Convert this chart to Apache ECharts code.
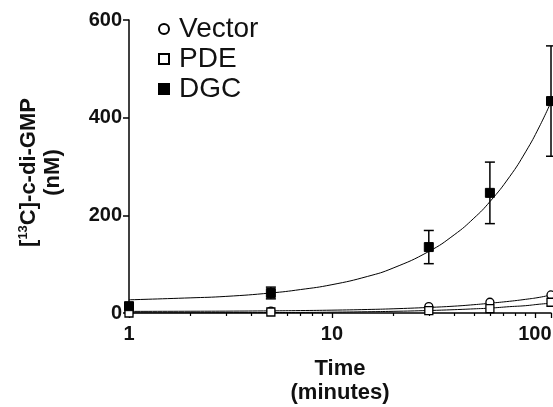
<!DOCTYPE html>
<html>
<head>
    <meta charset="utf-8">
    <title>c-di-GMP</title>
    <script src="https://cdn.jsdelivr.net/npm/echarts@6/dist/echarts.min.js"></script>
    <style>
        html, body { margin: 0; padding: 0; background: #fff; }
        #chart1 { width: 553px; height: 407px; }
    </style>
</head>
<body>
<div id="chart1"></div>
<script>
    // measured points (minutes, nM)
    var times = [1, 5, 30, 60, 120];
    var vector = [1, 4, 13, 22, 37];
    var pde = [0, 2, 5, 9, 22];
    var dgc = [14, 41, 135, 246, 434];
    var dgcErr = [6, 12, 34, 63, 113];

    // fit curves
    var fitTimes = [1, 2, 3, 5, 7, 10, 15, 20, 30, 40, 50, 60, 75, 90, 105, 120];
    var vectorFit = [3.3, 3.6, 3.8, 4.4, 5, 5.8, 7.2, 8.6, 11.4, 14, 17, 20, 24, 28, 32, 37];
    var pdeFit = [0.2, 0.4, 0.6, 0.9, 1.2, 1.7, 2.6, 3.4, 5.1, 6.8, 8.5, 10, 13, 15, 18, 20];
    var dgcFit = [27, 31, 34, 41, 48, 58, 75, 92, 126, 160, 194, 228, 279, 330, 381, 432];

    var font = 'Liberation Sans, Arial, sans-serif';

    function pairs(xs, ys) {
        return xs.map(function (x, i) { return [x, ys[i]]; });
    }

    var myChart1 = echarts.init(document.getElementById('chart1'), null, {renderer: 'canvas'});
    myChart1.setOption({
        animation: false,
        grid: {left: 129, right: 2, top: 20, bottom: 94, outerBoundsMode: 'none', containLabel: false},
        legend: {
            orient: 'vertical',
            left: 153,
            top: 10,
            itemGap: 2,
            itemWidth: 10,
            itemHeight: 10,
            textStyle: {fontFamily: font, fontSize: 28, color: '#111', padding: [0, 0, 0, 5]},
            data: ['Vector', 'PDE', 'DGC']
        },
        xAxis: {
            type: 'log',
            logBase: 10,
            min: 1,
            max: 120,
            name: 'Time\n(minutes)',
            nameLocation: 'middle',
            nameGap: 44,
            nameTextStyle: {fontFamily: font, fontWeight: 'bold', fontSize: 22, lineHeight: 24, color: '#111'},
            axisLine: {lineStyle: {color: '#000', width: 1.5}},
            axisTick: {length: 5, lineStyle: {color: '#000', width: 1.3}},
            minorTick: {show: true, splitNumber: 9, length: 3, lineStyle: {color: '#000', width: 1.2}},
            axisLabel: {fontFamily: font, fontWeight: 'bold', fontSize: 20, color: '#111', margin: 11,
                showMaxLabel: false},
            splitLine: {show: false}
        },
        yAxis: {
            type: 'value',
            min: 0,
            max: 600,
            interval: 200,
            name: '{b|[}{s|13}{b|C]-c-di-GMP}\n{b|(nM)}',
            nameLocation: 'middle',
            nameRotate: 90,
            nameGap: 64,
            nameTextStyle: {
                fontFamily: font, fontWeight: 'bold', fontSize: 22, color: '#111',
                padding: [0, 12, 0, 0],
                rich: {
                    b: {fontFamily: font, fontWeight: 'bold', fontSize: 22, lineHeight: 24, color: '#111'},
                    s: {fontFamily: font, fontWeight: 'bold', fontSize: 13, verticalAlign: 'top', lineHeight: 24, color: '#111'}
                }
            },
            axisLine: {show: true, lineStyle: {color: '#000', width: 1.5}},
            axisTick: {show: true, length: 6, lineStyle: {color: '#000', width: 1.5}},
            axisLabel: {fontFamily: font, fontWeight: 'bold', fontSize: 20, color: '#111', margin: 7},
            splitLine: {show: false}
        },
        series: [
            {
                type: 'line', data: pairs(fitTimes, vectorFit), smooth: true, showSymbol: false,
                lineStyle: {color: '#000', width: 1}, silent: true, z: 2
            },
            {
                type: 'line', data: pairs(fitTimes, pdeFit), smooth: true, showSymbol: false,
                lineStyle: {color: '#000', width: 1}, silent: true, z: 2
            },
            {
                type: 'line', data: pairs(fitTimes, dgcFit), smooth: true, showSymbol: false,
                lineStyle: {color: '#000', width: 1}, silent: true, z: 2
            },
            {
                type: 'custom',
                z: 3,
                data: times.map(function (t, i) { return [t, dgc[i] - dgcErr[i], dgc[i] + dgcErr[i]]; }),
                renderItem: function (params, api) {
                    var lo = api.coord([api.value(0), api.value(1)]);
                    var hi = api.coord([api.value(0), api.value(2)]);
                    var w = 5;
                    var st = {stroke: '#000', lineWidth: 1.5};
                    return {
                        type: 'group',
                        children: [
                            {type: 'line', shape: {x1: hi[0], y1: hi[1], x2: lo[0], y2: lo[1]}, style: st},
                            {type: 'line', shape: {x1: hi[0] - w, y1: hi[1], x2: hi[0] + w, y2: hi[1]}, style: st},
                            {type: 'line', shape: {x1: lo[0] - w, y1: lo[1], x2: lo[0] + w, y2: lo[1]}, style: st}
                        ]
                    };
                }
            },
            {
                name: 'Vector', type: 'scatter', data: pairs(times, vector), symbol: 'circle', symbolSize: 8,
                itemStyle: {color: '#fff', borderColor: '#000', borderWidth: 1.3, opacity: 1}, z: 4
            },
            {
                name: 'PDE', type: 'scatter', data: pairs(times, pde), symbol: 'rect', symbolSize: 8,
                itemStyle: {color: '#fff', borderColor: '#000', borderWidth: 1.3, opacity: 1}, z: 4
            },
            {
                name: 'DGC', type: 'scatter', data: pairs(times, dgc), symbol: 'rect', symbolSize: 9,
                itemStyle: {color: '#000', borderColor: '#000', borderWidth: 1, opacity: 1}, z: 5
            }
        ]
    });
</script>
</body>
</html>
